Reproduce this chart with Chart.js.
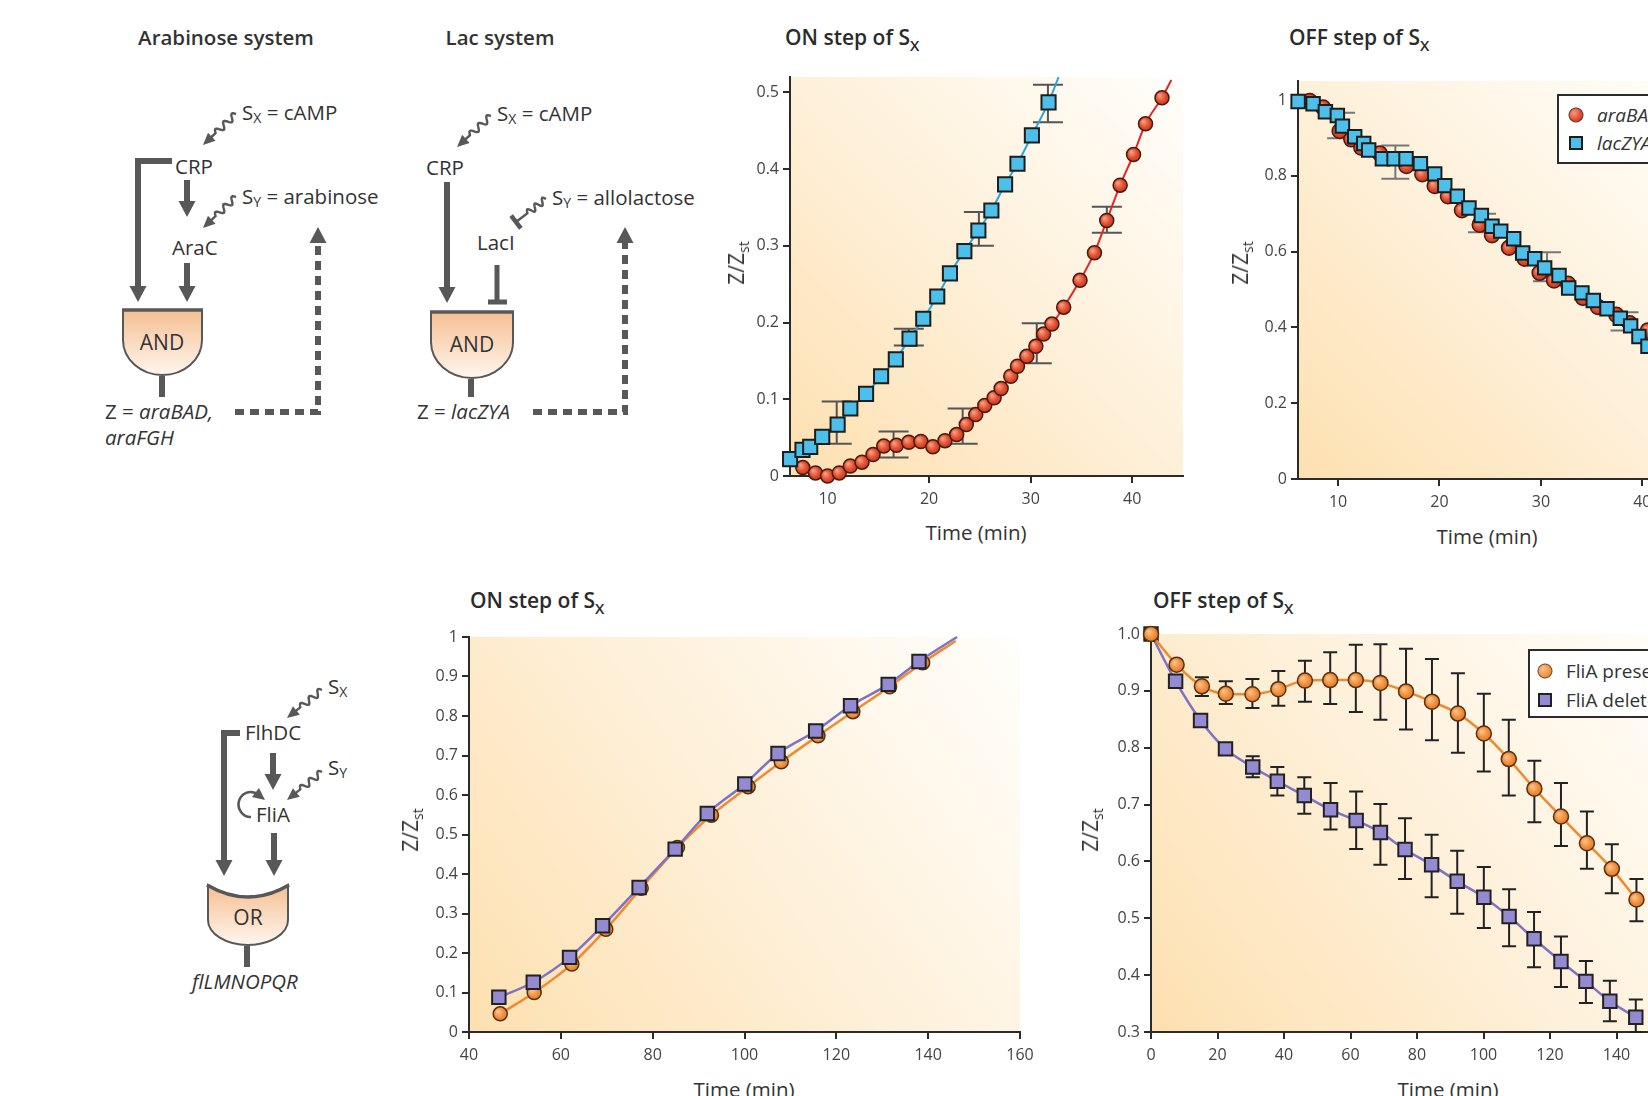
<!DOCTYPE html>
<html><head><meta charset="utf-8">
<script src="https://cdn.jsdelivr.net/npm/chart.js@4.4.1/dist/chart.umd.min.js"></script>
<style>
html,body{margin:0;padding:0;width:1648px;height:1096px;overflow:hidden;background:#fff;font-family:'Open Sans',sans-serif;color:#2b2b2b}
#diag{position:absolute;left:0;top:0}
.box{position:absolute}
.box canvas{position:absolute;left:0;top:0}
.title{position:absolute;font-size:21px;font-weight:600;white-space:nowrap;transform:translateY(-50%);color:#2b2b2b}
.title sub{font-size:15px;vertical-align:-6px;line-height:0}
.ytitle{position:absolute;font-size:21px;white-space:nowrap;transform:translate(-50%,-50%) rotate(-90deg);color:#333}
.ytitle sub{font-size:14px;vertical-align:-5px;line-height:0}
.xtitle{position:absolute;font-size:20.5px;white-space:nowrap;transform:translate(-50%,-50%);color:#333}
.legend{position:absolute;border:2px solid #2b2b2b;background:#fff;box-sizing:border-box}
.lg-item{position:absolute;font-size:19px;white-space:nowrap;transform:translateY(-50%);color:#333}
.mk{position:absolute;box-sizing:border-box;transform:translate(-50%,-50%)}
</style></head>
<body>
<svg id="diag" width="1648" height="1096" xmlns="http://www.w3.org/2000/svg">
 <defs>
  <linearGradient id="gg" x1="0" y1="0" x2="0" y2="1">
   <stop offset="0" stop-color="#f5bf92"/><stop offset="1" stop-color="#fff6ee"/>
  </linearGradient>
 </defs>
</svg>

<div class="title" style="left:785px;top:37px">ON step of S<sub>X</sub></div>
<div class="title" style="left:1289px;top:37px">OFF step of S<sub>X</sub></div>
<div class="title" style="left:470px;top:600px">ON step of S<sub>X</sub></div>
<div class="title" style="left:1153px;top:600px">OFF step of S<sub>X</sub></div>

<div class="box" id="b1"><canvas id="c1"></canvas></div>
<div class="box" id="b2"><canvas id="c2"></canvas></div>
<div class="box" id="b3"><canvas id="c3"></canvas></div>
<div class="box" id="b4"><canvas id="c4"></canvas></div>

<div class="ytitle" style="left:736px;top:263px">Z/Z<sub>st</sub></div>
<div class="ytitle" style="left:1240px;top:263px">Z/Z<sub>st</sub></div>
<div class="ytitle" style="left:410px;top:830px">Z/Z<sub>st</sub></div>
<div class="ytitle" style="left:1090px;top:830px">Z/Z<sub>st</sub></div>
<div class="xtitle" style="left:976px;top:532px">Time (min)</div>
<div class="xtitle" style="left:1487px;top:536px">Time (min)</div>
<div class="xtitle" style="left:744px;top:1089px">Time (min)</div>
<div class="xtitle" style="left:1448px;top:1089px">Time (min)</div>

<div class="legend" style="left:1557px;top:94px;width:150px;height:70px"></div>
<div class="mk" style="left:1576px;top:115px;width:15px;height:15px;border-radius:50%;background:radial-gradient(circle at 35% 35%,#f79a7a,#e0472c 60%,#b8321c);border:1.5px solid #4a1a10"></div>
<div class="lg-item" style="left:1597px;top:115px;font-style:italic">araBAD</div>
<div class="mk" style="left:1576px;top:143px;width:14px;height:14px;background:#4cc0ea;border:2px solid #1d1d1d"></div>
<div class="lg-item" style="left:1597px;top:143px;font-style:italic">lacZYA</div>

<div class="legend" style="left:1528px;top:649px;width:150px;height:69px"></div>
<div class="mk" style="left:1545px;top:671px;width:15px;height:15px;border-radius:50%;background:radial-gradient(circle at 35% 35%,#fbc18a,#f39440 60%,#d9762a);border:1.5px solid #5a3010"></div>
<div class="lg-item" style="left:1566px;top:671px">FliA present</div>
<div class="mk" style="left:1545px;top:700px;width:14px;height:14px;background:#938ad2;border:2px solid #222"></div>
<div class="lg-item" style="left:1566px;top:700px">FliA deleted</div>

<script>
// ---------------- DATA ----------------
// Top ON step of Sx (arabinose / lac)
const onLacX = [6.31, 7.53, 8.29, 9.47, 10.99, 12.24, 13.79, 15.27, 16.72, 18.07, 19.42, 20.80, 22.05, 23.47, 24.85, 26.13, 27.48, 28.70, 30.12, 31.76];
const onLacY = [0.022, 0.034, 0.038, 0.051, 0.067, 0.088, 0.107, 0.130, 0.152, 0.179, 0.205, 0.234, 0.264, 0.293, 0.320, 0.346, 0.380, 0.407, 0.444, 0.487];
const onLacLineEnd = [32.75, 0.52];
const onAraX = [7.56, 8.81, 10.0, 11.15, 12.24, 13.39, 14.48, 15.53, 16.78, 18.0, 19.19, 20.37, 21.56, 22.71, 23.66, 24.59, 25.48, 26.40, 27.09, 28.04, 28.70, 29.62, 30.51, 31.27, 32.09, 33.25, 34.86, 36.28, 37.49, 38.81, 40.13, 41.31, 42.93];
const onAraY = [0.011, 0.004, 0.0, 0.004, 0.013, 0.018, 0.028, 0.039, 0.040, 0.044, 0.045, 0.038, 0.046, 0.054, 0.067, 0.080, 0.092, 0.102, 0.114, 0.130, 0.143, 0.156, 0.169, 0.185, 0.198, 0.220, 0.255, 0.291, 0.333, 0.379, 0.419, 0.459, 0.493];
const onAraLineEnd = [43.85, 0.516];
const onLacErrX = [10.9, 18.0, 24.9, 31.7];
const onLacErrLo = [0.042, 0.170, 0.300, 0.461];
const onLacErrHi = [0.097, 0.192, 0.344, 0.510];
const onAraErrX = [16.5, 23.3, 30.6, 37.5];
const onAraErrLo = [0.024, 0.042, 0.147, 0.317];
const onAraErrHi = [0.058, 0.088, 0.199, 0.351];
const onXTicks = [10, 20, 30, 40];
const onXLabels = ['10', '20', '30', '40'];
const onYTicks = [0, 0.1, 0.2, 0.3, 0.4, 0.5];
const onYLabels = ['0', '0.1', '0.2', '0.3', '0.4', '0.5'];

// Top OFF step of Sx
const offLacX = [6.06, 7.54, 8.75, 9.93, 10.43, 11.64, 12.53, 13.02, 14.37, 15.52, 16.70, 18.12, 19.53, 20.52, 21.76, 22.91, 24.13, 25.18, 26.04, 27.32, 28.21, 29.39, 30.37, 31.79, 32.74, 34.05, 35.17, 36.52, 37.83, 38.85, 39.67, 40.56];
const offLacY = [0.996, 0.990, 0.969, 0.959, 0.931, 0.903, 0.885, 0.868, 0.845, 0.845, 0.845, 0.832, 0.805, 0.774, 0.746, 0.715, 0.695, 0.667, 0.654, 0.634, 0.596, 0.581, 0.557, 0.537, 0.504, 0.491, 0.471, 0.449, 0.424, 0.404, 0.376, 0.350];
const offAraX = [7.21, 8.52, 10.16, 11.31, 12.30, 14.11, 16.74, 18.31, 19.53, 20.84, 22.22, 23.97, 25.18, 26.86, 28.40, 29.88, 31.30, 32.68, 34.15, 35.63, 37.44, 38.75, 40.56];
const offAraY = [0.997, 0.980, 0.918, 0.896, 0.874, 0.859, 0.826, 0.804, 0.773, 0.746, 0.709, 0.671, 0.643, 0.610, 0.581, 0.544, 0.524, 0.515, 0.478, 0.454, 0.433, 0.411, 0.392];
const offErrX = [10.3, 15.65, 24.2, 30.6, 38.25];
const offErrLo = [0.899, 0.792, 0.651, 0.522, 0.392];
const offErrHi = [0.966, 0.880, 0.700, 0.598, 0.440];
const offXTicks = [10, 20, 30, 40];
const offXLabels = ['10', '20', '30', '40'];
const offYTicks = [0, 0.2, 0.4, 0.6, 0.8, 1];
const offYLabels = ['0', '0.2', '0.4', '0.6', '0.8', '1'];

// Bottom ON step of Sx (flagella)
const flOnDelX = [46.5, 54.0, 61.9, 69.1, 77.05, 84.9, 91.9, 100.06, 107.3, 115.5, 123.1, 131.3, 138.0];
const flOnDelY = [0.088, 0.126, 0.189, 0.269, 0.366, 0.463, 0.553, 0.628, 0.705, 0.762, 0.826, 0.880, 0.938];
const flOnDelLineEnd = [146.3, 1.0];
const flOnPresX = [46.8, 54.2, 62.4, 69.8, 77.5, 85.4, 92.8, 100.8, 108.0, 116.0, 123.6, 131.6, 138.8];
const flOnPresY = [0.046, 0.100, 0.172, 0.260, 0.364, 0.467, 0.549, 0.621, 0.684, 0.750, 0.811, 0.874, 0.935];
const flOnPresLineEnd = [146.0, 0.99];
const flOnXTicks = [40, 60, 80, 100, 120, 140, 160];
const flOnXLabels = ['40', '60', '80', '100', '120', '140', '160'];
const flOnYTicks = [0, 0.1, 0.2, 0.3, 0.4, 0.5, 0.6, 0.7, 0.8, 0.9, 1];
const flOnYLabels = ['0', '0.1', '0.2', '0.3', '0.4', '0.5', '0.6', '0.7', '0.8', '0.9', '1'];

// Bottom OFF step of Sx (flagella)
const flOffPresX = [0, 7.7, 15.3, 22.5, 30.5, 38.3, 46.3, 53.9, 61.6, 69.0, 76.7, 84.5, 92.3, 100.1, 107.6, 115.3, 123.3, 131.1, 138.6, 146.0];
const flOffPresY = [1.0, 0.946, 0.908, 0.895, 0.894, 0.903, 0.918, 0.919, 0.919, 0.914, 0.899, 0.881, 0.860, 0.825, 0.780, 0.728, 0.679, 0.632, 0.587, 0.533];
const flOffPresLo = [null, null, 0.891, 0.877, 0.870, 0.874, 0.881, 0.877, 0.863, 0.849, 0.832, 0.813, 0.791, 0.758, 0.716, 0.669, 0.627, 0.587, 0.544, 0.495];
const flOffPresHi = [null, null, 0.924, 0.917, 0.921, 0.935, 0.953, 0.968, 0.981, 0.982, 0.974, 0.956, 0.931, 0.895, 0.849, 0.777, 0.738, 0.688, 0.630, 0.569];
const flOffDelX = [0, 7.4, 14.9, 22.4, 30.6, 38.0, 46.1, 54.0, 61.7, 69.0, 76.4, 84.4, 92.1, 100.1, 107.7, 115.2, 123.3, 130.8, 138.0, 145.8];
const flOffDelY = [1.0, 0.917, 0.848, 0.798, 0.766, 0.741, 0.716, 0.691, 0.672, 0.651, 0.621, 0.594, 0.565, 0.537, 0.503, 0.464, 0.424, 0.389, 0.354, 0.326];
const flOffDelLo = [null, null, null, null, 0.748, 0.716, 0.684, 0.656, 0.622, 0.594, 0.569, 0.537, 0.508, 0.483, 0.451, 0.414, 0.379, 0.351, 0.319, 0.300];
const flOffDelHi = [null, null, null, null, 0.785, 0.766, 0.748, 0.738, 0.723, 0.701, 0.676, 0.647, 0.619, 0.590, 0.551, 0.511, 0.468, 0.425, 0.390, 0.357];
const flOffXTicks = [0, 20, 40, 60, 80, 100, 120, 140, 160];
const flOffXLabels = ['0', '20', '40', '60', '80', '100', '120', '140', '160'];
const flOffYTicks = [0.3, 0.4, 0.5, 0.6, 0.7, 0.8, 0.9, 1.0];
const flOffYLabels = ['0.3', '0.4', '0.5', '0.6', '0.7', '0.8', '0.9', '1.0'];

// ---------------- HELPERS ----------------
const pts = (xs, ys) => xs.map((x, i) => ({x, y: ys[i]}));
const withEnd = (xs, ys, end) => pts(xs, ys).concat([{x: end[0], y: end[1]}]);
const radii = (n, r, hasEnd) => Array.from({length: n + (hasEnd ? 1 : 0)}, (_, i) => (hasEnd && i === n) ? 0 : r);

const YW = 60, XH = 40, PT = 14, PR = 30;
function place(boxId, canvasId, L, T, R, B) {
  const left = L - YW, top = T - PT, w = R + PR - left, h = B + XH - top;
  const b = document.getElementById(boxId);
  b.style.left = left + 'px'; b.style.top = top + 'px'; b.style.width = w + 'px'; b.style.height = h + 'px';
  const c = document.getElementById(canvasId);
  c.width = w; c.height = h; c.style.width = w + 'px'; c.style.height = h + 'px';
  return c;
}

function glossy(base, light, dark) {
  return (ctx) => {
    const ch = ctx.chart;
    if (!ctx.raw || !ch.scales.x) return base;
    const px = ch.scales.x.getPixelForValue(ctx.raw.x), py = ch.scales.y.getPixelForValue(ctx.raw.y);
    if (!isFinite(px) || !isFinite(py)) return base;
    const g = ch.ctx.createRadialGradient(px - 2.5, py - 2.5, 0.5, px, py, 8);
    g.addColorStop(0, light); g.addColorStop(0.55, base); g.addColorStop(1, dark);
    return g;
  };
}

const bgPlugin = {
  id: 'bg',
  beforeDraw(chart) {
    const {ctx, chartArea: a} = chart;
    const g = ctx.createLinearGradient(a.left, a.bottom, a.right, a.top);
    g.addColorStop(0, '#fde0b0');
    g.addColorStop(0.5, '#fef0d9');
    g.addColorStop(1, '#fffefb');
    ctx.save(); ctx.fillStyle = g;
    ctx.fillRect(a.left, a.top, a.right - a.left, a.bottom - a.top);
    ctx.restore();
  }
};

const errPlugin = {
  id: 'errbars',
  beforeDatasetsDraw(chart, args, opts) {
    const {ctx, scales: {x, y}} = chart;
    (opts.bars || []).forEach(b => {
      ctx.save();
      ctx.strokeStyle = b.color; ctx.lineWidth = b.width;
      b.xs.forEach((xv, i) => {
        if (b.lo[i] == null) return;
        const px = x.getPixelForValue(xv), pl = y.getPixelForValue(b.lo[i]), ph = y.getPixelForValue(b.hi[i]);
        ctx.beginPath();
        ctx.moveTo(px, pl); ctx.lineTo(px, ph);
        ctx.moveTo(px - b.cap, pl); ctx.lineTo(px + b.cap, pl);
        ctx.moveTo(px - b.cap, ph); ctx.lineTo(px + b.cap, ph);
        ctx.stroke();
      });
      ctx.restore();
    });
  }
};

function axis(min, max, ticks, labels, isX) {
  return {
    type: 'linear', min, max,
    afterBuildTicks: a => { a.ticks = ticks.map(v => ({value: v})); },
    afterFit: a => { if (isX) a.height = XH; else a.width = YW; },
    ticks: {autoSkip: false, maxRotation: 0, padding: isX ? 7 : 4, color: '#444',
      font: {family: 'Open Sans', size: 16}, callback: (v, i) => labels[i]},
    grid: {drawOnChartArea: false, drawTicks: true, tickLength: 7, color: '#2b2b2b', lineWidth: 2},
    border: {display: true, color: '#2b2b2b', width: 2}
  };
}

function options(xa, ya, bars) {
  return {
    responsive: false, animation: false, events: [],
    layout: {padding: {top: PT, right: PR, left: 0, bottom: 0}},
    plugins: {legend: {display: false}, tooltip: {enabled: false}, errbars: {bars}},
    scales: {x: xa, y: ya}
  };
}

// ---------------- CHART 1: top ON ----------------
new Chart(place('b1', 'c1', 790, 77, 1183, 476), {
  type: 'line',
  data: {datasets: [
    {label: 'lacZYA', data: withEnd(onLacX, onLacY, onLacLineEnd), borderColor: '#2aa7dc', borderWidth: 2,
     pointStyle: 'rect', pointRadius: radii(onLacX.length, 10, true), pointBackgroundColor: '#4cc0ea',
     pointBorderColor: '#1d1d1d', pointBorderWidth: 2, cubicInterpolationMode: 'monotone', clip: false},
    {label: 'araBAD', data: withEnd(onAraX, onAraY, onAraLineEnd), borderColor: '#e3262a', borderWidth: 2,
     pointStyle: 'circle', pointRadius: radii(onAraX.length, 7, true),
     pointBackgroundColor: glossy('#e2502f', '#f8a083', '#b8321c'),
     pointBorderColor: '#4a1a10', pointBorderWidth: 1.5, cubicInterpolationMode: 'monotone', clip: false}
  ]},
  options: options(axis(6.3, 45, onXTicks, onXLabels, true), axis(0, 0.52, onYTicks, onYLabels, false), [
    {xs: onLacErrX, lo: onLacErrLo, hi: onLacErrHi, color: '#555', width: 2, cap: 15},
    {xs: onAraErrX, lo: onAraErrLo, hi: onAraErrHi, color: '#555', width: 2, cap: 15}
  ]),
  plugins: [bgPlugin, errPlugin]
});

// ---------------- CHART 2: top OFF ----------------
new Chart(place('b2', 'c2', 1298, 81, 1693, 479), {
  type: 'line',
  data: {datasets: [
    {label: 'lacZYA', data: pts(offLacX, offLacY), showLine: false,
     pointStyle: 'rect', pointRadius: 9.5, pointBackgroundColor: '#4cc0ea',
     pointBorderColor: '#1d1d1d', pointBorderWidth: 2, clip: false},
    {label: 'araBAD', data: pts(offAraX, offAraY), showLine: false,
     pointStyle: 'circle', pointRadius: 7.5,
     pointBackgroundColor: glossy('#e2502f', '#f8a083', '#b8321c'),
     pointBorderColor: '#4a1a10', pointBorderWidth: 1.5, clip: false}
  ]},
  options: options(axis(6.05, 45, offXTicks, offXLabels, true), axis(0, 1.05, offYTicks, offYLabels, false), [
    {xs: offErrX, lo: offErrLo, hi: offErrHi, color: '#777', width: 2, cap: 14}
  ]),
  plugins: [bgPlugin, errPlugin]
});

// ---------------- CHART 3: bottom ON ----------------
new Chart(place('b3', 'c3', 469, 637, 1020, 1032), {
  type: 'line',
  data: {datasets: [
    {label: 'FliA deleted', data: withEnd(flOnDelX, flOnDelY, flOnDelLineEnd), borderColor: '#7d72c4', borderWidth: 2.5,
     pointStyle: 'rect', pointRadius: radii(flOnDelX.length, 9.5, true), pointBackgroundColor: '#938ad2',
     pointBorderColor: '#222', pointBorderWidth: 2, cubicInterpolationMode: 'monotone', clip: false},
    {label: 'FliA present', data: withEnd(flOnPresX, flOnPresY, flOnPresLineEnd), borderColor: '#f08a30', borderWidth: 2.5,
     pointStyle: 'circle', pointRadius: radii(flOnPresX.length, 7, true),
     pointBackgroundColor: glossy('#f39440', '#fcc48e', '#d9762a'),
     pointBorderColor: '#5a3010', pointBorderWidth: 1.5, cubicInterpolationMode: 'monotone', clip: false}
  ]},
  options: options(axis(40, 160, flOnXTicks, flOnXLabels, true), axis(0, 1, flOnYTicks, flOnYLabels, false), []),
  plugins: [bgPlugin, errPlugin]
});

// ---------------- CHART 4: bottom OFF ----------------
new Chart(place('b4', 'c4', 1151, 634, 1683, 1032), {
  type: 'line',
  data: {datasets: [
    {label: 'FliA present', data: pts(flOffPresX, flOffPresY), borderColor: '#f08a30', borderWidth: 2.5,
     pointStyle: 'circle', pointRadius: 7.5,
     pointBackgroundColor: glossy('#f39440', '#fcc48e', '#d9762a'),
     pointBorderColor: '#5a3010', pointBorderWidth: 1.5, cubicInterpolationMode: 'monotone', clip: false},
    {label: 'FliA deleted', data: pts(flOffDelX, flOffDelY), borderColor: '#7d72c4', borderWidth: 2.5,
     pointStyle: 'rect', pointRadius: 9.5, pointBackgroundColor: '#938ad2',
     pointBorderColor: '#222', pointBorderWidth: 2, cubicInterpolationMode: 'monotone', clip: false}
  ]},
  options: options(axis(0, 160, flOffXTicks, flOffXLabels, true), axis(0.3, 1.0, flOffYTicks, flOffYLabels, false), [
    {xs: flOffPresX, lo: flOffPresLo, hi: flOffPresHi, color: '#222', width: 2, cap: 7},
    {xs: flOffDelX, lo: flOffDelLo, hi: flOffDelHi, color: '#222', width: 2, cap: 7}
  ]),
  plugins: [bgPlugin, errPlugin]
});

// ---------------- DIAGRAMS (SVG) ----------------
const NS = 'http://www.w3.org/2000/svg';
const svg = document.getElementById('diag');
const G = '#585858';
const FS = 20.5;
function el(tag, attrs, parent) {
  const e = document.createElementNS(NS, tag);
  for (const k in attrs) e.setAttribute(k, attrs[k]);
  (parent || svg).appendChild(e); return e;
}
function seg(x1, y1, x2, y2, w) { el('line', {x1, y1, x2, y2, stroke: G, 'stroke-width': w || 6}); }
function head(x, y, dir) { // tip at (x,y)
  const s = dir === 'down' ? -1 : 1;
  el('polygon', {points: `${x},${y} ${x - 8.5},${y + s * 16} ${x + 8.5},${y + s * 16}`, fill: G});
}
function arrowDown(x, y1, y2) { seg(x, y1, x, y2 - 12); head(x, y2, 'down'); }
function squiggle(x0, y0, x1, y1, end) {
  const dx = x1 - x0, dy = y1 - y0, L = Math.hypot(dx, dy), ux = dx / L, uy = dy / L, nx = -uy, ny = ux;
  const wl = L * 0.62;
  let d = `M${x0},${y0}`;
  for (let i = 1; i <= 40; i++) {
    const t = i / 40 * wl, a = 3.2 * Math.sin(t / wl * Math.PI * 5);
    d += ` L${(x0 + ux * t + nx * a).toFixed(2)},${(y0 + uy * t + ny * a).toFixed(2)}`;
  }
  const hl = end === 'arrow' ? 9 : 0;
  d += ` L${x1 - ux * hl},${y1 - uy * hl}`;
  el('path', {d, fill: 'none', stroke: G, 'stroke-width': 2.4});
  if (end === 'arrow') {
    const bx = x1 - ux * 12, by = y1 - uy * 12;
    el('polygon', {points: `${x1},${y1} ${bx + nx * 5.5},${by + ny * 5.5} ${bx - nx * 5.5},${by - ny * 5.5}`, fill: G});
  } else {
    el('line', {x1: x1 + nx * 8, y1: y1 + ny * 8, x2: x1 - nx * 8, y2: y1 - ny * 8, stroke: G, 'stroke-width': 4.5});
  }
}
function txt(x, y, parts, o) {
  o = o || {};
  const t = el('text', {x, y, 'font-family': 'Open Sans', 'font-size': o.size || FS, fill: '#333',
    'dominant-baseline': 'central', 'text-anchor': o.anchor || 'start', 'font-weight': o.weight || 400});
  let shifted = false;
  parts.forEach(p => {
    const s = el('tspan', {}, t);
    if (typeof p === 'string') { s.textContent = p; if (shifted) { s.setAttribute('dy', -5); shifted = false; } }
    else if (p.sub) { s.textContent = p.sub; s.setAttribute('font-size', 14); s.setAttribute('dy', 5); shifted = true; }
    else if (p.i) { s.textContent = p.i; s.setAttribute('font-style', 'italic'); if (shifted) { s.setAttribute('dy', -5); shifted = false; } }
  });
  return t;
}
function andGate(x0, x1, top, side, bot, cx, label) {
  const rx = (x1 - x0) / 2, ry = bot - side;
  el('path', {d: `M${x0},${top} L${x0},${side} A${rx} ${ry} 0 0 0 ${x1},${side} L${x1},${top} Z`,
    fill: 'url(#gg)', stroke: G, 'stroke-width': 2});
  seg(x0 - 1, top, x1 + 1, top, 3.5);
  txt(cx, (top + bot) / 2 - 1, [label], {anchor: 'middle', size: 21});
}
function orGate(x0, x1, top, dip, side, bot, label) {
  const rx = (x1 - x0) / 2, ry = bot - side, cx = (x0 + x1) / 2;
  el('path', {d: `M${x0},${top} Q${cx},${2 * dip - top} ${x1},${top} L${x1},${side} A${rx} ${ry} 0 0 1 ${x0},${side} Z`,
    fill: 'url(#gg)', stroke: G, 'stroke-width': 2});
  el('path', {d: `M${x0 - 1},${top} Q${cx},${2 * dip - top} ${x1 + 1},${top}`, fill: 'none', stroke: G, 'stroke-width': 3.5});
  txt(cx, (dip + bot) / 2 - 4, [label], {anchor: 'middle', size: 21});
}
function dashed(d) { el('path', {d, fill: 'none', stroke: G, 'stroke-width': 6, 'stroke-dasharray': '9 6'}); }

// Arabinose system
txt(226, 37, ['Arabinose system'], {anchor: 'middle', weight: 600, size: 20.5});
txt(242, 112, ['S', {sub: 'X'}, ' = cAMP']);
squiggle(236, 114, 203, 145, 'arrow');
txt(175, 166, ['CRP']);
el('path', {d: 'M172,161 L138,161 L138,288', fill: 'none', stroke: G, 'stroke-width': 6});
head(138, 302, 'down');
arrowDown(187, 180, 217);
txt(242, 196, ['S', {sub: 'Y'}, ' = arabinose']);
squiggle(236, 197, 203, 228, 'arrow');
txt(172, 247, ['AraC']);
arrowDown(187, 263, 302);
andGate(123, 202, 310, 340, 375, 162, 'AND');
seg(162, 376, 162, 397);
txt(105, 411, ['Z = ', {i: 'araBAD,'}]);
txt(105, 437, [{i: 'araFGH'}]);
dashed('M235,412 L318,412 L318,242');
head(318, 227, 'up');

// Lac system
txt(500, 37, ['Lac system'], {anchor: 'middle', weight: 600, size: 20.5});
txt(497, 113, ['S', {sub: 'X'}, ' = cAMP']);
squiggle(491, 116, 457, 147, 'arrow');
txt(426, 167, ['CRP']);
arrowDown(447, 182, 303);
txt(552, 197, ['S', {sub: 'Y'}, ' = allolactose']);
squiggle(546, 199, 516, 222, 'bar');
txt(477, 242, ['LacI']);
seg(497, 265, 497, 302, 5);
seg(488, 302, 507, 302, 5);
andGate(431, 513, 312, 342, 378, 472, 'AND');
seg(471, 379, 471, 397);
txt(417, 411, ['Z = ', {i: 'lacZYA'}]);
dashed('M533,412 L625,412 L625,242');
head(625, 227, 'up');

// Flagella system
txt(328, 686, ['S', {sub: 'X'}]);
squiggle(322, 690, 287, 718, 'arrow');
txt(245, 732, ['FlhDC']);
el('path', {d: 'M240,733 L224,733 L224,861', fill: 'none', stroke: G, 'stroke-width': 6});
head(224, 876, 'down');
arrowDown(273, 753, 790);
txt(328, 767, ['S', {sub: 'Y'}]);
squiggle(322, 772, 287, 800, 'arrow');
el('path', {d: 'M251,817 A12 12.5 0 1 1 257,794', fill: 'none', stroke: G, 'stroke-width': 2.6});
el('polygon', {points: '265,800 252,797 259,788', fill: G});
txt(256, 814, ['FliA']);
arrowDown(274, 833, 876);
orGate(208, 288, 885, 897, 920, 945, 'OR');
seg(247, 946, 247, 967);
txt(192, 981, [{i: 'flLMNOPQR'}]);
</script>
</body></html>
